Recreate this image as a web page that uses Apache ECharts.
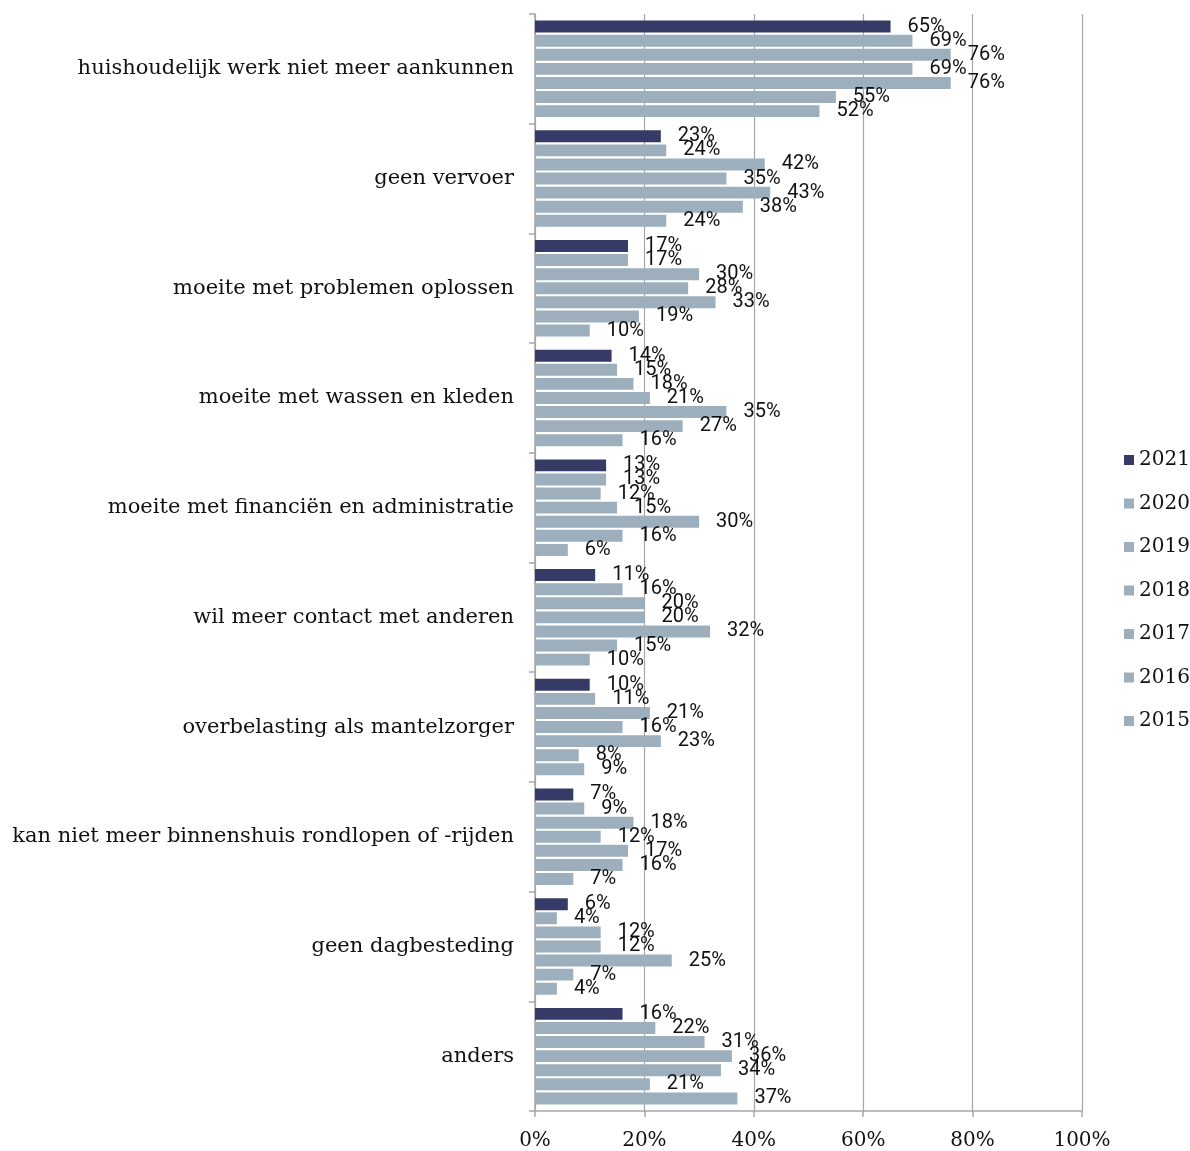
<!DOCTYPE html>
<html>
<head>
<meta charset="utf-8">
<script src="https://cdn.jsdelivr.net/npm/echarts@6/dist/echarts.min.js"></script>
<style>
  html, body { margin: 0; padding: 0; background: #fff; }
  #chart { width: 1190px; height: 1151px; }
</style>
</head>
<body>
<div id="chart"></div>
<script>
// Reasons for needing help, share of respondents per survey year
const categories = [
  'huishoudelijk werk niet meer aankunnen',
  'geen vervoer',
  'moeite met problemen oplossen',
  'moeite met wassen en kleden',
  'moeite met financiën en administratie',
  'wil meer contact met anderen',
  'overbelasting als mantelzorger',
  'kan niet meer binnenshuis rondlopen of -rijden',
  'geen dagbesteding',
  'anders'
];

const years = ['2021', '2020', '2019', '2018', '2017', '2016', '2015'];

// One list per year, in the category order above (percentages)
const v2021 = [65, 23, 17, 14, 13, 11, 10, 7, 6, 16];
const v2020 = [69, 24, 17, 15, 13, 16, 11, 9, 4, 22];
const v2019 = [76, 42, 30, 18, 12, 20, 21, 18, 12, 31];
const v2018 = [69, 35, 28, 21, 15, 20, 16, 12, 12, 36];
const v2017 = [76, 43, 33, 35, 30, 32, 23, 17, 25, 34];
const v2016 = [55, 38, 19, 27, 16, 15, 8, 16, 7, 21];
const v2015 = [52, 24, 10, 16, 6, 10, 9, 7, 4, 37];

const xTicks = [0, 20, 40, 60, 80, 100];

const seriesValues = [v2021, v2020, v2019, v2018, v2017, v2016, v2015];
const colorCurrent = '#363a66';
const colorPast = '#9dafbd';

const chart = echarts.init(document.getElementById('chart'), null, { renderer: 'canvas' });

const series = years.map((y, i) => ({
  name: y,
  type: 'bar',
  data: seriesValues[i],
  barGap: '18%',
  barCategoryGap: '12%',
  itemStyle: { color: i === 0 ? colorCurrent : colorPast },
  label: {
    show: true,
    position: 'right',
    distance: 17,
    formatter: '{c}%',
    color: '#111',
    fontFamily: 'Roboto',
    fontSize: 20
  },
  emphasis: { disabled: true },
  animation: false
}));

chart.setOption({
  animation: false,
  grid: { left: 535, right: 108, top: 14, bottom: 37, containLabel: false },
  legend: {
    orient: 'vertical',
    left: 1124,
    top: 450,
    padding: 0,
    itemWidth: 10,
    itemHeight: 10,
    itemGap: 23.5,
    icon: 'rect',
    data: years,
    textStyle: { fontFamily: 'DejaVu Serif', fontSize: 20, color: '#111' }
  },
  xAxis: {
    type: 'value',
    min: xTicks[0],
    max: xTicks[xTicks.length - 1],
    interval: xTicks[1] - xTicks[0],
    axisLine: { show: true, lineStyle: { color: '#a6a6a6', width: 1.5 } },
    axisTick: { show: true, length: 6, lineStyle: { color: '#a6a6a6', width: 1.5 } },
    splitLine: { show: true, lineStyle: { color: '#a6a6a6', width: 1.2 } },
    axisLabel: {
      formatter: '{value}%',
      fontFamily: 'DejaVu Serif',
      fontSize: 20,
      color: '#111',
      margin: 20
    }
  },
  yAxis: {
    type: 'category',
    inverse: true,
    data: categories,
    axisLine: { show: true, lineStyle: { color: '#a6a6a6', width: 1.5 } },
    axisTick: { show: true, length: 6, lineStyle: { color: '#a6a6a6', width: 1.5 } },
    axisLabel: {
      fontFamily: 'DejaVu Serif',
      fontSize: 21,
      color: '#111',
      margin: 21
    }
  },
  series: series
});
</script>
</body>
</html>
